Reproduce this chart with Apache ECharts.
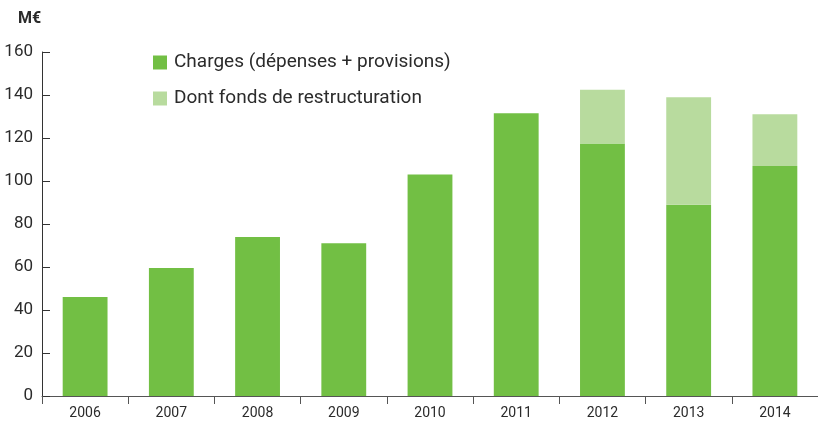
<!DOCTYPE html>
<html>
<head>
<meta charset="utf-8">
<script src="https://cdn.jsdelivr.net/npm/echarts@6/dist/echarts.min.js"></script>
<style>
    html, body { margin: 0; padding: 0; background: #fff; }
    #chart { width: 818px; height: 426px; }
</style>
</head>
<body>
<div id="chart"></div>
<script>
    // categories and values
    var years = ['2006', '2007', '2008', '2009', '2010', '2011', '2012', '2013', '2014'];
    var charges = [46, 59.5, 74, 71, 103, 131.5, 117.5, 89, 107];
    var fonds = [0, 0, 0, 0, 0, 0, 25, 50, 24];
    var yTicks = [0, 160, 20]; // min, max, interval

    var chart = echarts.init(document.getElementById('chart'));
    var txt = '#2b2b2b';
    chart.setOption({
        animation: false,
        textStyle: { fontFamily: 'Roboto' },
        grid: { left: 42, right: 0, top: 52, bottom: 30 },
        legend: {
            orient: 'vertical',
            left: 148,
            top: 48,
            itemWidth: 14,
            itemHeight: 14,
            itemGap: 17,
            icon: 'rect',
            textStyle: { fontSize: 19, color: txt, lineHeight: 19, padding: [0, 0, 0, 2] },
            data: ['Charges (dépenses + provisions)', 'Dont fonds de restructuration']
        },
        title: {
            text: 'M€',
            left: 13,
            top: 6,
            textStyle: { fontSize: 16, fontWeight: 'bold', color: txt }
        },
        xAxis: {
            type: 'category',
            data: years,
            axisLine: { lineStyle: { color: '#555', width: 1 } },
            axisTick: { show: true, length: 8, lineStyle: { color: '#555' } },
            axisLabel: { fontSize: 14, color: txt, margin: 10 }
        },
        yAxis: {
            type: 'value',
            min: yTicks[0],
            max: yTicks[1],
            interval: yTicks[2],
            splitLine: { show: false },
            axisLine: { show: true, lineStyle: { color: '#333' } },
            axisTick: { show: true, inside: true, length: 8, lineStyle: { color: '#333' } },
            axisLabel: { fontSize: 17, color: txt, margin: 9 }
        },
        series: [
            {
                name: 'Charges (dépenses + provisions)',
                type: 'bar',
                stack: 'total',
                barWidth: '52%',
                itemStyle: { color: '#72bf44' },
                data: charges
            },
            {
                name: 'Dont fonds de restructuration',
                type: 'bar',
                stack: 'total',
                barWidth: '52%',
                itemStyle: { color: '#b8db9e' },
                data: fonds
            }
        ]
    });
</script>
</body>
</html>
